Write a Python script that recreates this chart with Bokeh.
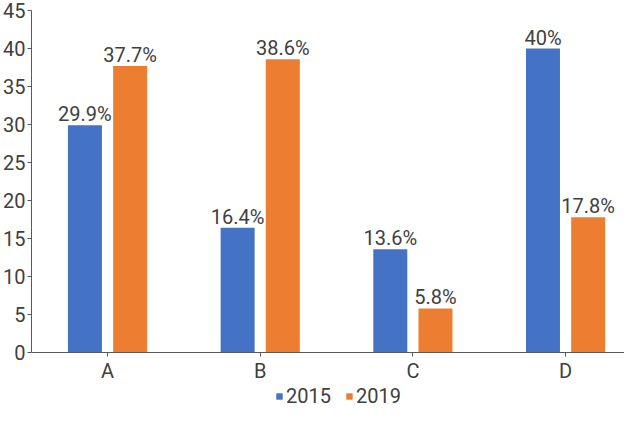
from bokeh.plotting import figure
from bokeh.models import ColumnDataSource, Range1d, FixedTicker, Legend, LegendItem
from bokeh.transform import dodge
from bokeh.core.properties import value
from bokeh.embed import file_html
from bokeh.resources import INLINE

categories = ["A", "B", "C", "D"]
values_2015 = [29.9, 16.4, 13.6, 40]
values_2019 = [37.7, 38.6, 5.8, 17.8]
labels_2015 = ["29.9%", "16.4%", "13.6%", "40%"]
labels_2019 = ["37.7%", "38.6%", "5.8%", "17.8%"]
y_ticks = [0, 5, 10, 15, 20, 25, 30, 35, 40, 45]

BLUE = "#4472C4"
ORANGE = "#ED7D31"
TEXT = "#404040"
AXIS = "#595959"
FONT = "Roboto"

pos = [i + 0.5 for i in range(len(categories))]
src = ColumnDataSource(dict(x=pos, v15=values_2015, v19=values_2019,
                            l15=labels_2015, l19=labels_2019))

p = figure(width=624, height=409, output_backend="svg", toolbar_location=None,
           x_range=Range1d(0.002, 3.886), y_range=Range1d(-7.5, 45),
           min_border_left=0, min_border_right=0, min_border_top=10,
           min_border_bottom=0)
p.outline_line_color = None
p.grid.visible = False
p.background_fill_color = "white"
p.border_fill_color = "white"

W = 0.2227
OFF = 0.148
r1 = p.vbar(x=dodge("x", -OFF, range=p.x_range), top="v15", width=W, bottom=0,
            source=src, fill_color=BLUE, line_color=None)
r2 = p.vbar(x=dodge("x", OFF, range=p.x_range), top="v19", width=W, bottom=0,
            source=src, fill_color=ORANGE, line_color=None)

for col, lab in (("v15", "l15"), ("v19", "l19")):
    off = -OFF if col == "v15" else OFF
    p.text(x=dodge("x", off, range=p.x_range), y=col, text=lab, source=src,
           text_align="center", text_baseline="alphabetic", y_offset=-11,
           text_font=value(FONT), text_font_size="20px", text_color=TEXT)

for ax in (p.xaxis[0], p.yaxis[0]):
    ax.axis_line_color = AXIS
    ax.major_tick_line_color = AXIS
    ax.minor_tick_line_color = None
    ax.major_tick_in = 0
    ax.major_tick_out = 4
    ax.major_label_text_font = FONT
    ax.major_label_text_font_size = "20px"
    ax.major_label_text_color = TEXT

p.yaxis.ticker = FixedTicker(ticks=y_ticks)
p.yaxis.bounds = (0, 45)
p.yaxis.major_label_standoff = 2
p.xaxis.ticker = FixedTicker(ticks=pos)
p.xaxis.major_label_overrides = {x: c for x, c in zip(pos, categories)}
p.xaxis.major_label_standoff = 2
p.xaxis.fixed_location = 0

legend = Legend(items=[LegendItem(label="2015", renderers=[r1]),
                       LegendItem(label="2019", renderers=[r2])],
                orientation="horizontal", location=(244, 1),
                border_line_color=None, background_fill_alpha=0,
                label_text_font=FONT, label_text_font_size="20px",
                label_text_color=TEXT, glyph_width=8, glyph_height=8,
                label_standoff=3, spacing=14, padding=0, margin=0)
p.add_layout(legend, "center")

open("out.html", "w").write(file_html(p, INLINE))
